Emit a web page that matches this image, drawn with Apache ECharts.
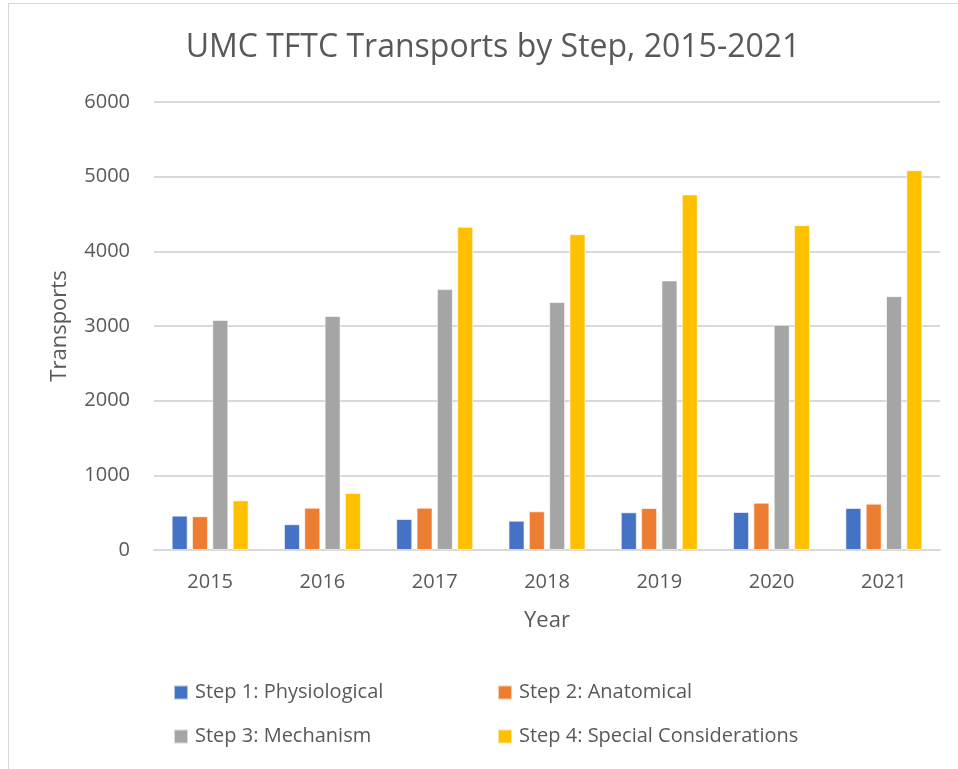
<!DOCTYPE html>
<html>
<head>
<meta charset="utf-8">
<script src="https://cdn.jsdelivr.net/npm/echarts@6/dist/echarts.min.js"></script>
<style>
  html, body { margin: 0; padding: 0; background: #fff; }
  #frame { position: absolute; left: 8px; top: 3px; width: 960px; height: 780px;
           border-left: 1px solid #d9d9d9; border-top: 1px solid #d9d9d9; }
  #chart { position: absolute; left: 0; top: 0; width: 958px; height: 769px; }
</style>
</head>
<body>
<div id="frame"></div>
<div id="chart"></div>
<script>
// data
const years = ['2015', '2016', '2017', '2018', '2019', '2020', '2021'];
const stepNames = ['Step 1: Physiological', 'Step 2: Anatomical', 'Step 3: Mechanism', 'Step 4: Special Considerations'];
const step1 = [460, 345, 415, 392, 505, 509, 562];
const step2 = [452, 566, 566, 518, 562, 633, 620];
const step3 = [3080, 3133, 3494, 3320, 3610, 3016, 3400];
const step4 = [665, 763, 4328, 4230, 4762, 4351, 5087];
const yTicks = [0, 1000, 2000, 3000, 4000, 5000, 6000];

const colors = ['#4472c4', '#ed7d31', '#a5a5a5', '#ffc000'];
const font = '"Open Sans", "Liberation Sans", sans-serif';
const textColor = '#595959';

const chart = echarts.init(document.getElementById('chart'));

const seriesData = [step1, step2, step3, step4];
const series = seriesData.map((d, i) => ({
  name: stepNames[i],
  type: 'bar',
  data: d,
  barWidth: 16,
  barGap: '27%',
  itemStyle: { color: colors[i], borderColor: 'rgba(255,255,255,0.6)', borderWidth: 1 },
}));

const legendBase = {
  orient: 'vertical',
  icon: 'rect',
  padding: 0,
  itemWidth: 14,
  itemHeight: 14,
  itemGap: 23,
  textStyle: { fontFamily: font, fontSize: 20, lineHeight: 21, color: textColor, padding: [0, 0, 0, 2] },
};

chart.setOption({
  animation: false,
  color: colors,
  title: {
    text: 'UMC TFTC Transports by Step, 2015-2021',
    left: 488,
    textAlign: 'center',
    top: 27,
    textStyle: { fontFamily: font, fontSize: 32, fontWeight: 'normal', color: textColor },
  },
  grid: { left: 154, right: 18, top: 102, bottom: 219 },
  legend: [
    Object.assign({}, legendBase, { left: 173, top: 682, data: [stepNames[0], stepNames[2]] }),
    Object.assign({}, legendBase, { left: 497, top: 682, data: [stepNames[1], stepNames[3]] }),
  ],
  xAxis: {
    type: 'category',
    data: years,
    name: 'Year',
    nameLocation: 'middle',
    nameGap: 60,
    nameTextStyle: { fontFamily: font, fontSize: 22, color: textColor },
    axisLine: { lineStyle: { color: '#d9d9d9', width: 2 } },
    axisTick: { show: false },
    axisLabel: { fontFamily: font, fontSize: 20, color: textColor, margin: 22 },
  },
  yAxis: {
    type: 'value',
    min: yTicks[0],
    max: yTicks[yTicks.length - 1],
    interval: 1000,
    name: 'Transports',
    nameLocation: 'middle',
    nameGap: 83,
    nameTextStyle: { fontFamily: font, fontSize: 22, color: textColor },
    axisLine: { show: false },
    axisTick: { show: false },
    axisLabel: { fontFamily: font, fontSize: 20, color: textColor, margin: 24, formatter: v => String(v) },
    splitLine: { lineStyle: { color: '#d9d9d9', width: 2 } },
  },
  series: series,
});
</script>
</body>
</html>
